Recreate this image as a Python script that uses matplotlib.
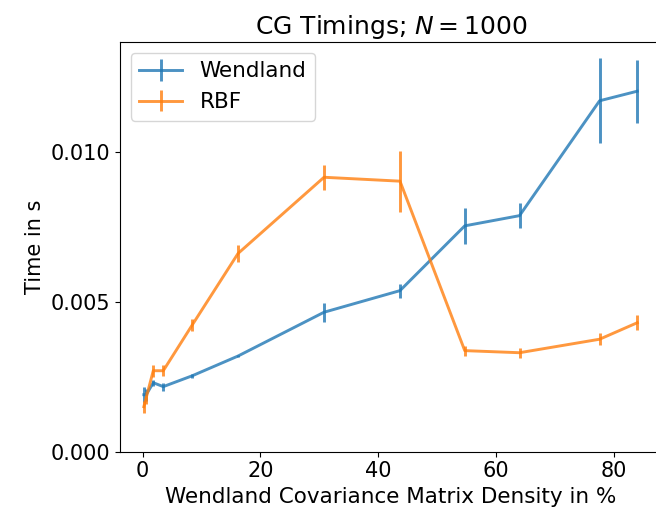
import matplotlib
matplotlib.use("Agg")
import matplotlib.pyplot as plt
import numpy as np

density = [0.2, 0.6, 1.8, 3.5, 8.4, 16.2, 30.8, 43.7, 54.7, 64.0, 77.6, 84.0]
wendland = [0.0019, 0.0019, 0.0023, 0.00217, 0.00253, 0.00319, 0.00465, 0.00537, 0.00753, 0.00787, 0.0117, 0.01202]
wendland_err = [0.00025, 0.0002, 0.0001, 0.00013, 0.00006, 0.00003, 0.00031, 0.00023, 0.0006, 0.00041, 0.00142, 0.00105]
rbf = [0.0015, 0.0018, 0.0027, 0.0027, 0.00422, 0.00661, 0.00915, 0.00902, 0.00337, 0.0033, 0.00375, 0.0043]
rbf_err = [0.0002, 0.0002, 0.0002, 0.00018, 0.00019, 0.00027, 0.00042, 0.00102, 0.00017, 0.00016, 0.0002, 0.00025]

plt.rcParams["font.size"] = 15

fig = plt.figure(figsize=(6.56, 5.22), dpi=100)
# axes runs a little past the right edge of the picture, as in the original crop
ax = fig.add_axes([120 / 656, 70.3 / 522, 542 / 656, 409.7 / 522])
ax.errorbar(density, wendland, yerr=wendland_err, label="Wendland", lw=2.1, alpha=0.8, color="C0")
ax.errorbar(density, rbf, yerr=rbf_err, label="RBF", lw=2.1, alpha=0.8, color="C1")
ax.set_yticks([0.0, 0.005, 0.01])
ax.set_ylim(0.0, 0.01366)
ax.set_xlim(-3.85, 88.2)
ax.set_xlabel("Wendland Covariance Matrix Density in %", fontsize=15.5)
ax.set_ylabel("Time in s")
ax.set_title("CG Timings; $N = 1000$")
ax.legend(loc="upper left", fontsize=15.5)
fig.savefig("out.png")
